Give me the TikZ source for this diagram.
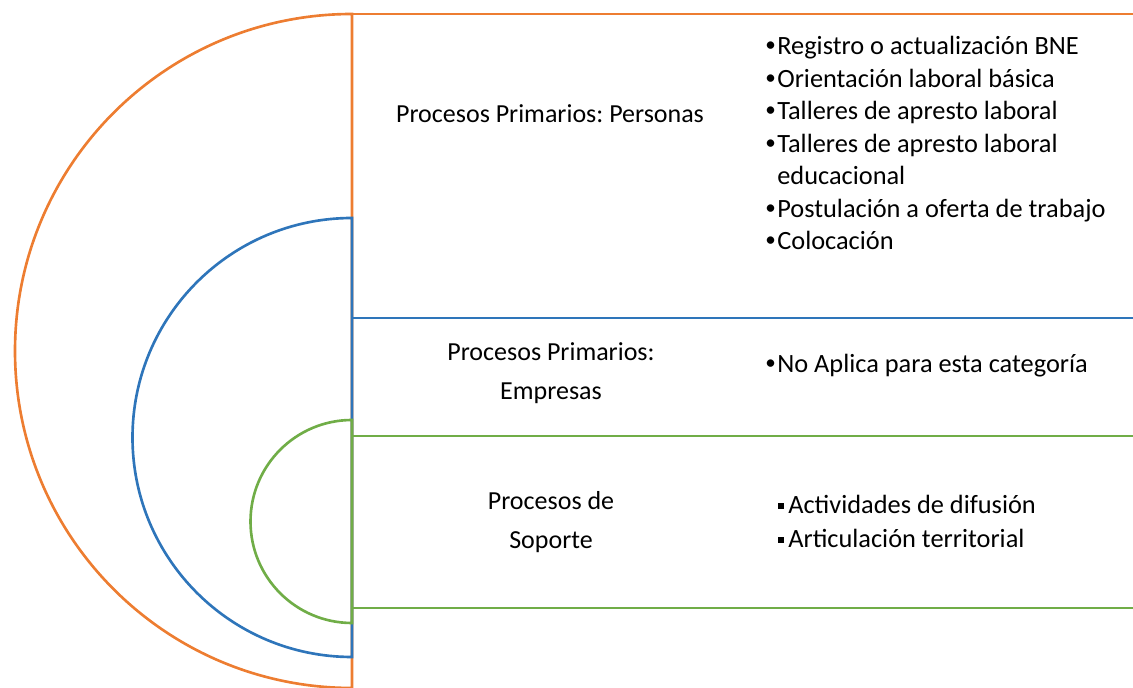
\documentclass[tikz,border=0pt]{standalone}
\usepackage{fontspec}
\setmainfont{Carlito}
\frenchspacing
\definecolor{naranja}{RGB}{237,125,49}
\definecolor{azul}{RGB}{46,117,186}
\definecolor{verde}{RGB}{112,173,71}
\newcommand{\bul}{\makebox[0.24cm][l]{\raisebox{0.1em}{\fontsize{12}{12}\selectfont •}}}
\newcommand{\sqbul}{\makebox[0.2cm][l]{\raisebox{0.18em}{\rule{0.12cm}{0.12cm}}}}
\tikzset{
    proceso/.style={font=\fontsize{14.8}{22.5}\selectfont, align=center, inner sep=0pt},
    lista/.style={font=\fontsize{15}{18.5}\selectfont, align=left, anchor=north west, inner sep=0pt},
}
\begin{document}
\begin{tikzpicture}[x=0.02cm, y=0.02cm, line width=1.5pt]
    \useasboundingbox (0,0) rectangle (1133,-688);
    % semicirculos con su diametro
    \draw[naranja] (352,-14) coordinate (N1) arc[start angle=90, end angle=270, radius=337] coordinate (N2) -- cycle;
    \draw[azul] (352,-218) coordinate (A1) arc[start angle=90, end angle=270, radius=219.5] coordinate (A2) -- cycle;
    \draw[verde] (352,-420) coordinate (V1) arc[start angle=90, end angle=270, radius=101.5] coordinate (V2) -- cycle;
    % lineas horizontales
    \draw[naranja] (N1) -- (1133,-14);
    \draw[azul] (352,-318) -- (1133,-318);
    \draw[verde] (352,-436) -- (1133,-436);
    \draw[verde] (352,-608) -- (1133,-608);
    % textos
    \node[proceso] (personas) at (550,-114) {Procesos Primarios: Personas};
    \node[proceso] (empresas) at (551,-373) {Procesos Primarios:\\Empresas};
    \node[proceso] (soporte) at (551,-522) {Procesos de\\Soporte};
    \node[lista] (listaPersonas) at (764,-35) {%
        \bul Registro o actualización BNE\\
        \bul Orientación laboral básica\\
        \bul Talleres de apresto laboral\\
        \bul Talleres de apresto laboral\\
        \hspace*{0.24cm}educacional\\
        \bul Postulación a oferta de trabajo\\
        \bul Colocación};
    \node[lista] (listaEmpresas) at (764,-353) {\bul No Aplica para esta categoría};
    \node[lista] (listaSoporte) at (777,-494) {\sqbul Actividades de difusión\\[0.8pt]
        \sqbul Articulación territorial};
\end{tikzpicture}
\end{document}
